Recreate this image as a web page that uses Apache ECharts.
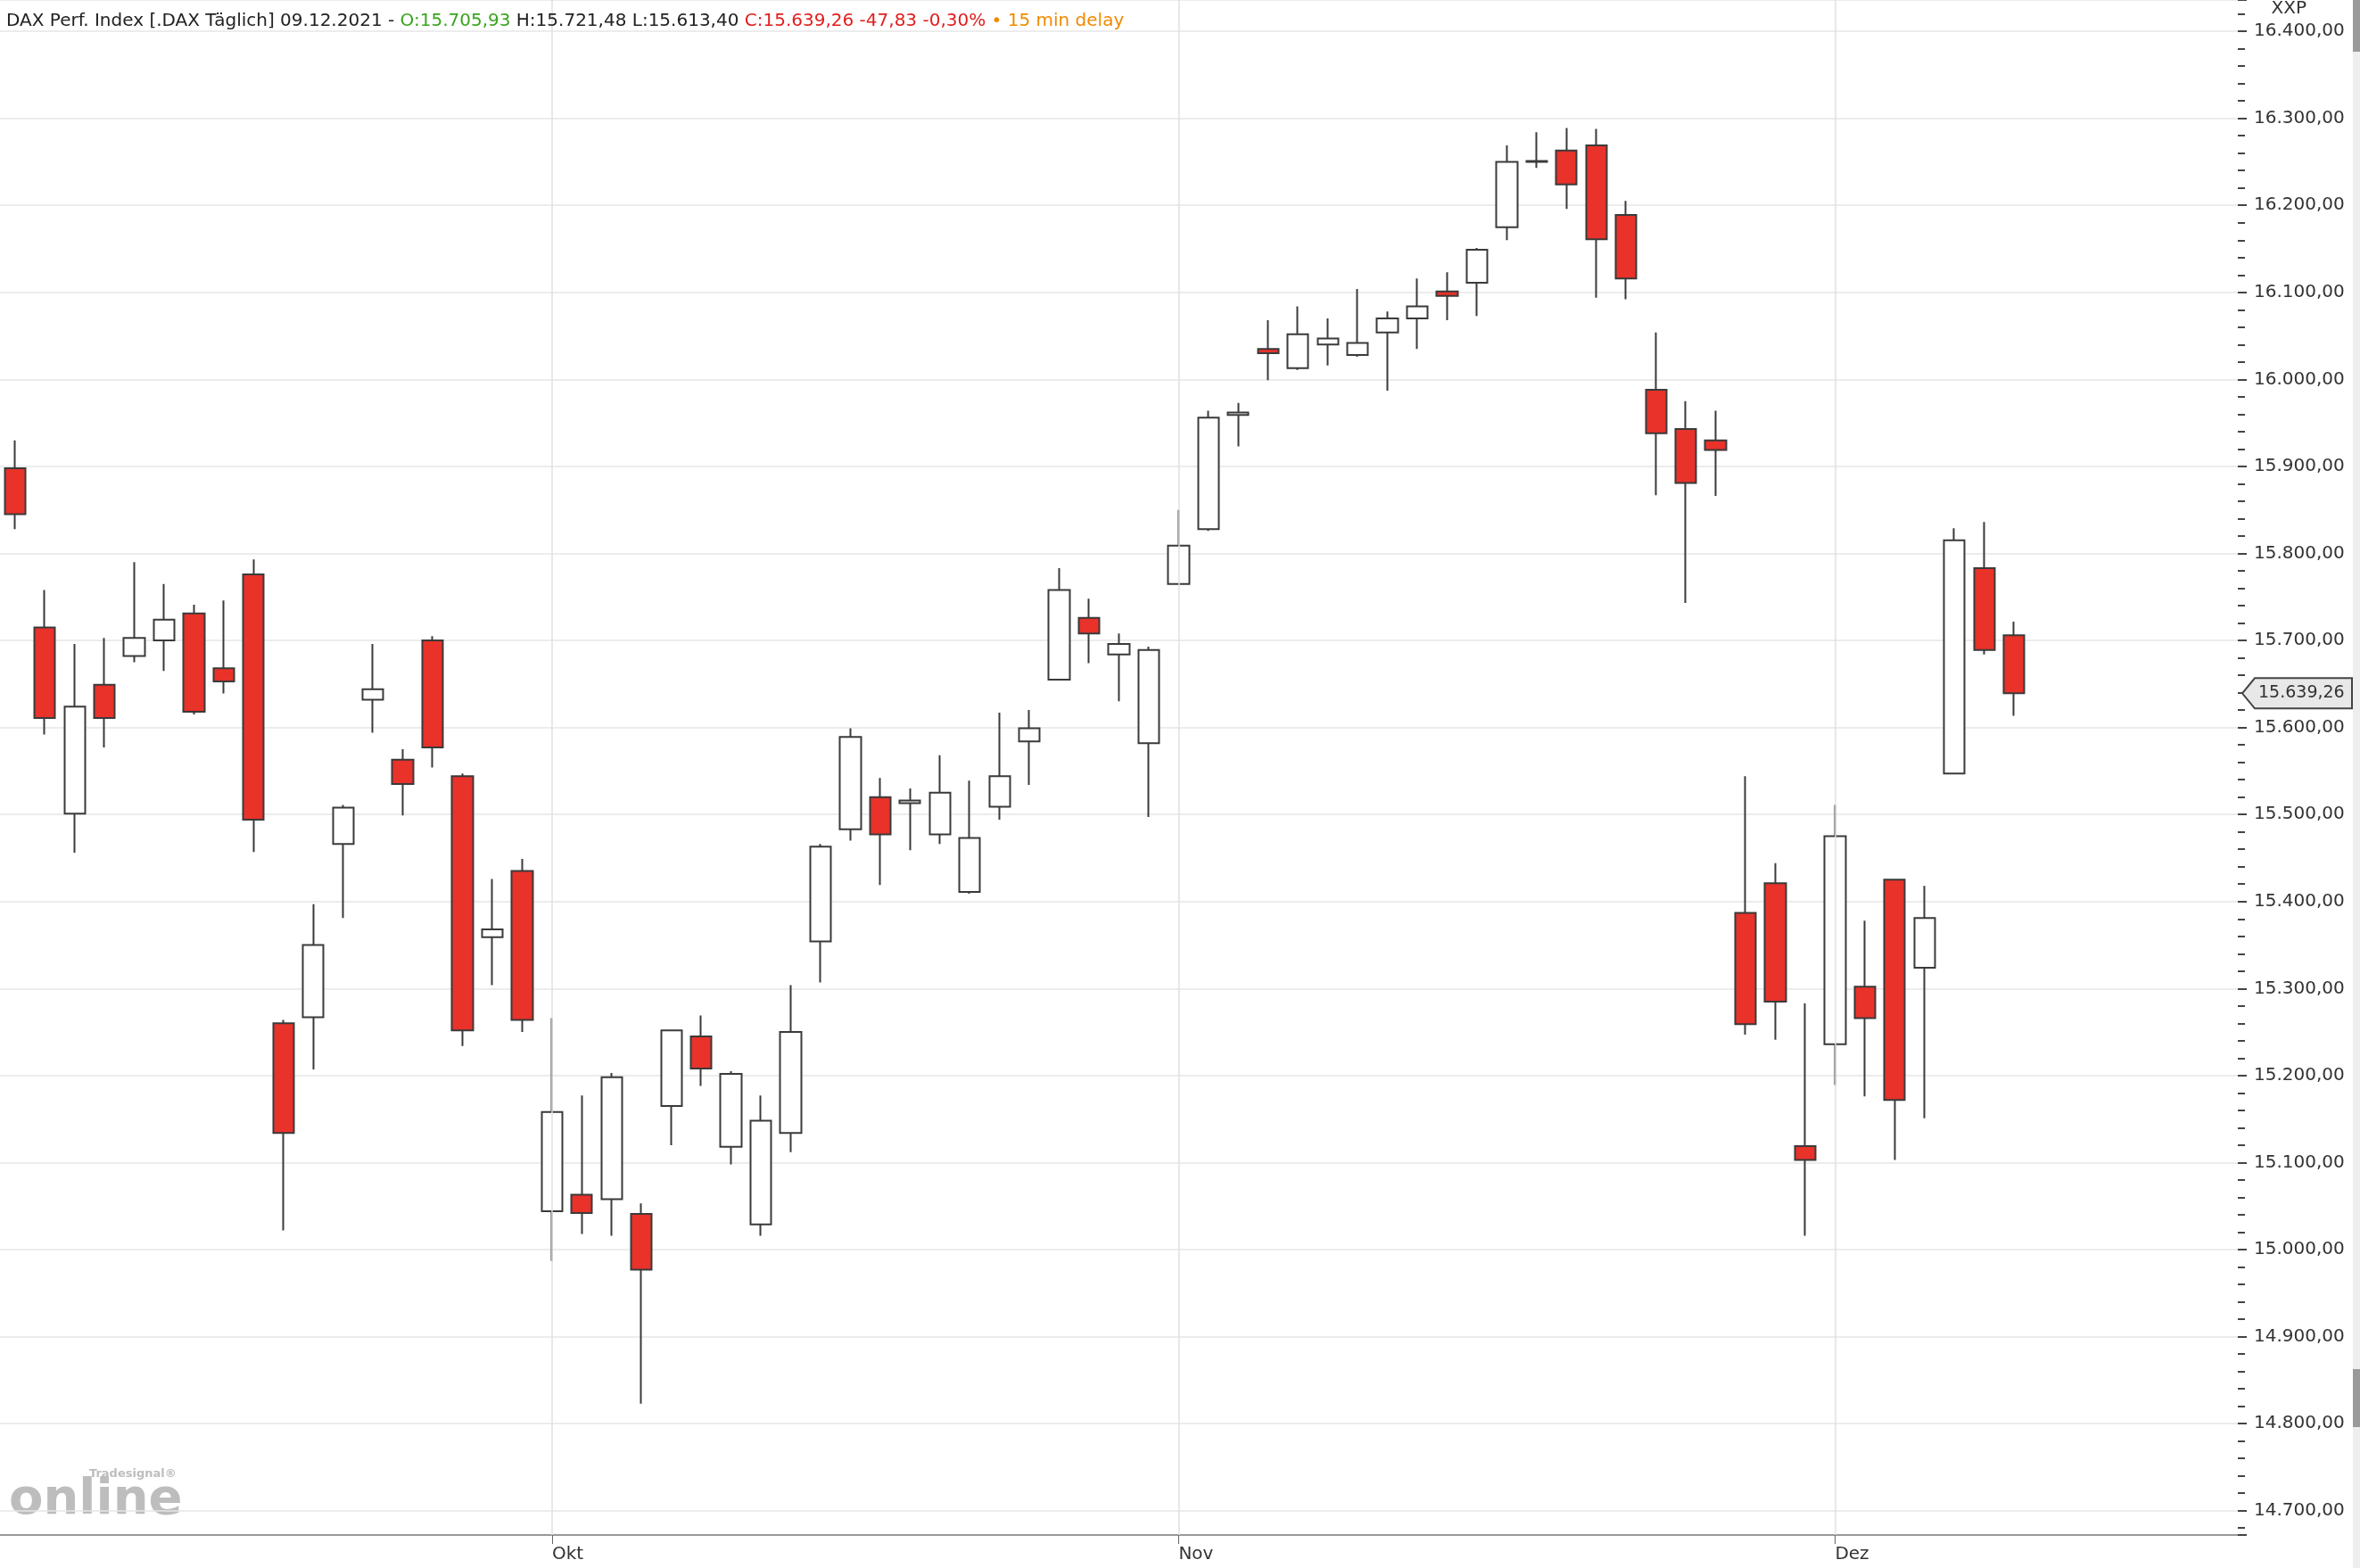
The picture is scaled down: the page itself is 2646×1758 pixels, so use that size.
<!DOCTYPE html>
<html><head><meta charset="utf-8">
<script src="https://cdn.jsdelivr.net/npm/echarts@6/dist/echarts.min.js"></script>
<style>html,body{margin:0;padding:0;background:#fff}#c{width:2646px;height:1758px}</style>
</head><body><div id="c"></div>
<script>
const dates = ['2021-09-07','2021-09-08','2021-09-09','2021-09-10','2021-09-13','2021-09-14','2021-09-15','2021-09-16','2021-09-17','2021-09-20','2021-09-21','2021-09-22','2021-09-23','2021-09-24','2021-09-27','2021-09-28','2021-09-29','2021-09-30',
'2021-10-01','2021-10-04','2021-10-05','2021-10-06','2021-10-07','2021-10-08','2021-10-11','2021-10-12','2021-10-13','2021-10-14','2021-10-15','2021-10-18','2021-10-19','2021-10-20','2021-10-21','2021-10-22','2021-10-25','2021-10-26','2021-10-27','2021-10-28','2021-10-29',
'2021-11-01','2021-11-02','2021-11-03','2021-11-04','2021-11-05','2021-11-08','2021-11-09','2021-11-10','2021-11-11','2021-11-12','2021-11-15','2021-11-16','2021-11-17','2021-11-18','2021-11-19','2021-11-22','2021-11-23','2021-11-24','2021-11-25','2021-11-26','2021-11-29','2021-11-30',
'2021-12-01','2021-12-02','2021-12-03','2021-12-06','2021-12-07','2021-12-08','2021-12-09'];
const futureDates = ['2021-12-10','2021-12-13','2021-12-14','2021-12-15','2021-12-16','2021-12-17','2021-12-20'];
const openV  = [15898,15715,15501,15649,15682,15700,15731,15668,15776,15260,15267,15466,15632,15563,15700,15544,15359,15435,
15044,15063,15058,15041,15165,15245,15118,15029,15134,15354,15483,15520,15513,15477,15411,15509,15584,15655,15726,15684,15582,
15765,15828,15959,16035,16013,16040,16028,16054,16070,16101,16111,16175,16250,16263,16269,16189,15988,15943,15930,15387,15421,15119,
15236,15302,15425,15324,15547,15783,15705.93];
const closeV = [15845,15611,15624,15611,15703,15724,15618,15653,15494,15134,15350,15508,15644,15535,15577,15252,15368,15264,
15158,15042,15198,14977,15252,15208,15202,15148,15250,15463,15589,15477,15516,15525,15473,15544,15599,15758,15708,15696,15689,
15809,15956,15962,16030,16052,16047,16042,16070,16084,16096,16149,16250,16251,16224,16161,16116,15938,15881,15919,15259,15285,15103,
15475,15266,15172,15381,15815,15689,15639.26];
const lowV   = [15828,15592,15456,15577,15675,15665,15615,15639,15457,15022,15207,15381,15594,15499,15554,15234,15304,15250,
14987,15018,15016,14823,15120,15188,15098,15016,15112,15307,15470,15419,15459,15466,15409,15494,15534,15655,15674,15630,15497,
15765,15826,15923,15999,16011,16016,16026,15987,16035,16068,16073,16160,16243,16196,16094,16092,15867,15743,15866,15247,15241,15016,
15189,15176,15103,15151,15547,15684,15613.40];
const highV  = [15930,15758,15696,15703,15790,15765,15741,15746,15793,15264,15397,15511,15696,15575,15705,15547,15426,15449,
15266,15177,15203,15053,15253,15269,15205,15177,15304,15466,15599,15542,15530,15568,15539,15617,15620,15783,15748,15708,15693,
15850,15964,15973,16068,16084,16070,16104,16078,16116,16123,16151,16269,16284,16289,16288,16205,16054,15975,15964,15544,15444,15283,
15511,15378,15426,15418,15829,15836,15721.48];
const monthStarts = ['2021-10-01','2021-11-01','2021-12-01'];
const monthLabels = {'2021-10-01':'Okt','2021-11-01':'Nov','2021-12-01':'Dez'};
const lastPrice = 15639.26;

function de(v){ const s=Math.abs(v).toFixed(2).split('.'); return (v<0?'-':'')+s[0].replace(/\B(?=(\d{3})+(?!\d))/g,'.')+','+s[1]; }

const cats = dates.concat(futureDates);
const data = dates.map((d,i)=>[openV[i],closeV[i],lowV[i],highV[i]]);
const chart = echarts.init(document.getElementById('c'));
const font = '"DejaVu Sans", Verdana, sans-serif';
const rs = (c)=>({fontSize:20,color:c,fontFamily:font,fontWeight:'normal'});
chart.setOption({
  animation:false,
  backgroundColor:'#fff',
  title:{left:2,top:9,text:'{k|DAX Perf. Index [.DAX Täglich] 09.12.2021 - }{g|O:15.705,93 }{k|H:15.721,48 L:15.613,40 }{r|C:15.639,26 -47,83 -0,30% }{o|• 15 min delay}',
    textStyle:{fontWeight:'normal',rich:{k:rs('#222'),g:rs('#3aa51e'),r:rs('#e02020'),o:rs('#f08a00')}}},
  grid:{left:0,right:137,top:0,bottom:37},
  xAxis:{type:'category',data:cats,boundaryGap:true,
    axisLine:{lineStyle:{color:'#999',width:2}},
    axisTick:{show:true,alignWithLabel:true,length:10,lineStyle:{color:'#666'},interval:(i,v)=>!!monthLabels[v]},
    axisLabel:{interval:(i,v)=>!!monthLabels[v],formatter:v=>monthLabels[v]||'',align:'left',margin:12,fontSize:20,color:'#333',fontFamily:font},
    splitLine:{show:false}},
  yAxis:{type:'value',position:'right',min:14672,max:16436,minInterval:100,maxInterval:100,splitNumber:18,scale:true,
    axisLine:{show:false},
    axisTick:{show:true,length:10,lineStyle:{color:'#444',width:2}},
    minorTick:{show:true,splitNumber:5,length:8,lineStyle:{color:'#444',width:2}},
    axisLabel:{margin:18,fontSize:20,color:'#333',fontFamily:font,formatter:v=>(Math.round(v)%100===0?de(v):'')},
    splitLine:{show:true,lineStyle:{color:'#e6e6e6',width:1.5}}},
  series:[{type:'candlestick',data:data,barWidth:'71%',
    itemStyle:{color:'#ffffff',color0:'#e8322a',borderColor:'#3a3a3a',borderColor0:'#3a3a3a',borderWidth:2},
    markLine:{silent:true,symbol:'none',label:{show:false},lineStyle:{color:'#e0e0e0',type:'solid',width:1.5},
      data:monthStarts.map(d=>({xAxis:d}))}
  }],
  graphic:[
    {id:'logo',type:'text',left:10,top:1654,style:{text:'online',fontSize:56,fontWeight:'bold',fill:'#bdbdbd',fontFamily:'"DejaVu Sans", sans-serif'}},
    {id:'logo2',type:'text',left:100,top:1646,style:{text:'Tradesignal®',fontSize:13,fontWeight:'bold',fill:'#bdbdbd',fontFamily:font}},
    {id:'xxp',type:'text',right:60,top:0,style:{text:'XXP',fontSize:20,fill:'#333',fontFamily:font}},
    {id:'sb',type:'rect',shape:{x:2638,y:0,width:8,height:1758},style:{fill:'#eeeeee'}},
    {id:'sb1',type:'rect',shape:{x:2638,y:0,width:8,height:58},style:{fill:'#9a9a9a'}},
    {id:'sb2',type:'rect',shape:{x:2638,y:1535,width:8,height:65},style:{fill:'#9a9a9a'}}
  ]
});
const py = chart.convertToPixel({yAxisIndex:0}, lastPrice);
const x0 = 2514, x1 = 2637, h = 34;
chart.setOption({graphic:[
  {id:'tag',type:'polygon',shape:{points:[[x0,py],[x0+14,py-h/2],[x1,py-h/2],[x1,py+h/2],[x0+14,py+h/2]]},style:{fill:'#e8e8e8',stroke:'#444',lineWidth:2},z:100},
  {id:'tagt',type:'text',x:x0+18,y:py,style:{text:de(lastPrice),fontSize:19,fill:'#333',fontFamily:font,textVerticalAlign:'middle'},z:101}
]});
</script></body></html>
